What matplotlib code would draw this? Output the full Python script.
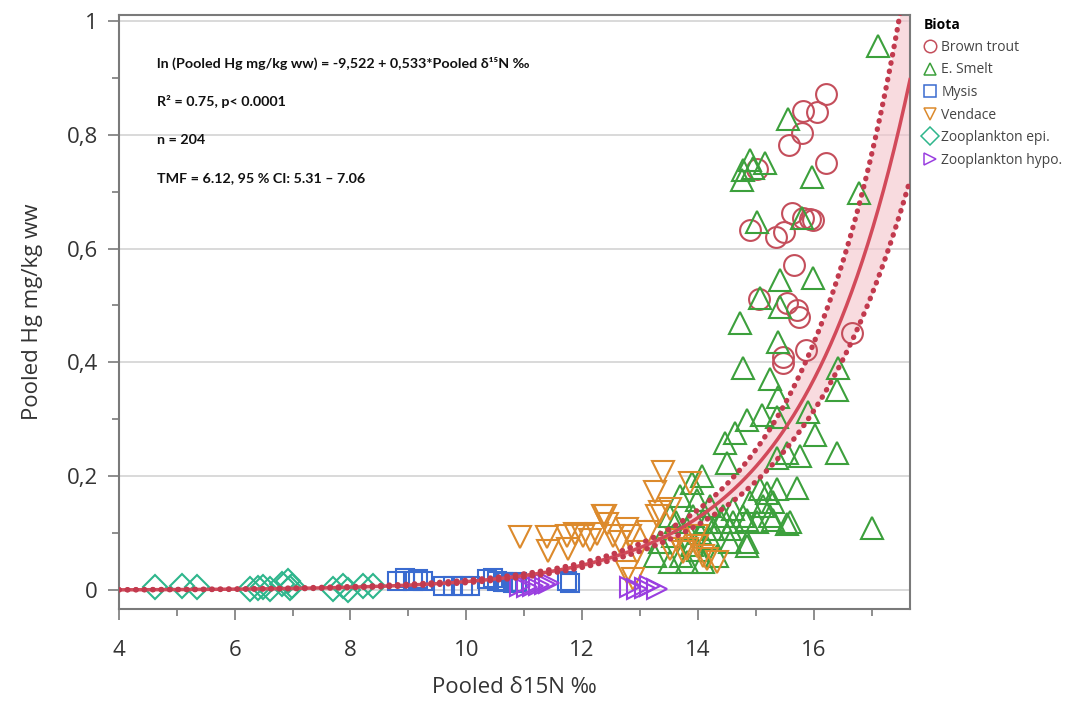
import matplotlib
matplotlib.use('Agg')
import matplotlib.pyplot as plt
from matplotlib.lines import Line2D
import numpy as np

plt.rcParams.update({'font.family': 'Open Sans', 'font.size': 16})

# --- data ---
trout_x = [16.21, 15.81, 16.06, 15.80, 15.57, 16.21, 15.02, 15.62, 15.81, 15.93, 15.99, 14.90,
           15.35, 15.49, 15.66, 15.05, 15.54, 15.71, 15.74, 15.87, 15.47, 15.47, 16.66]
trout_y = [0.872, 0.841, 0.839, 0.802, 0.781, 0.750, 0.740, 0.662, 0.653, 0.651, 0.650, 0.632,
           0.620, 0.629, 0.571, 0.511, 0.504, 0.492, 0.480, 0.422, 0.410, 0.399, 0.452]

smelt_x = [17.11, 15.55, 14.78, 14.90, 15.16, 14.76, 14.95, 15.97, 16.78, 15.02, 15.80,
           15.42, 15.99, 15.07, 15.42, 14.73, 15.38, 14.78, 15.24, 15.38, 16.42, 16.40, 15.11,
           15.36, 15.90, 16.02, 14.64, 14.47, 14.50, 15.36, 15.54, 15.76, 16.40, 14.07, 15.71,
           15.36, 15.07, 14.90, 15.12, 15.30, 14.60, 14.78, 14.43, 15.02, 15.24, 15.54, 14.55,
           14.84, 17.00, 13.90, 13.69, 13.98, 14.21, 13.26, 13.52, 13.81, 14.09, 14.33, 14.55,
           14.84, 14.60, 14.84, 15.30, 15.59, 13.81, 13.57, 14.03, 14.16, 13.52, 13.91, 15.19,
           14.26, 13.34, 14.84, 13.70, 14.00, 14.20, 13.90, 14.40, 13.62]
smelt_y = [0.956, 0.828, 0.737, 0.755, 0.751, 0.720, 0.742, 0.725, 0.697, 0.646, 0.653,
           0.545, 0.548, 0.513, 0.497, 0.469, 0.436, 0.390, 0.370, 0.340, 0.390, 0.352, 0.308,
           0.305, 0.313, 0.273, 0.276, 0.259, 0.224, 0.233, 0.241, 0.235, 0.241, 0.200, 0.180,
           0.177, 0.177, 0.154, 0.147, 0.154, 0.142, 0.130, 0.130, 0.119, 0.130, 0.116, 0.107,
           0.084, 0.110, 0.189, 0.165, 0.159, 0.147, 0.060, 0.049, 0.049, 0.049, 0.060, 0.084,
           0.077, 0.119, 0.124, 0.124, 0.119, 0.107, 0.095, 0.101, 0.119, 0.130, 0.130, 0.171,
           0.107, 0.084, 0.299, 0.060, 0.070, 0.090, 0.080, 0.120, 0.120]

mysis_x = [8.80, 8.94, 9.08, 9.16, 9.25, 9.60, 9.77, 9.94, 10.06, 10.36, 10.46, 10.53,
           10.63, 10.70, 10.80, 10.87, 11.74, 11.79]
mysis_y = [0.016, 0.022, 0.016, 0.019, 0.016, 0.007, 0.007, 0.007, 0.007, 0.019, 0.022, 0.016,
           0.014, 0.014, 0.013, 0.014, 0.016, 0.013]

vend_x = [10.93, 11.39, 11.41, 11.76, 11.88, 12.02, 12.13, 12.26, 12.39, 12.43, 12.53, 12.65,
          12.77, 12.83, 12.95, 12.77, 12.88, 13.14, 13.40, 13.26, 13.34, 13.52, 13.86, 13.74,
          13.98, 14.16, 13.64, 11.74, 13.29, 13.52, 13.81, 14.09, 14.33, 13.98, 12.36]
vend_y = [0.093, 0.093, 0.069, 0.072, 0.098, 0.095, 0.089, 0.098, 0.130, 0.116, 0.095, 0.084,
          0.107, 0.095, 0.067, 0.032, 0.019, 0.102, 0.208, 0.173, 0.137, 0.142, 0.189, 0.067,
          0.077, 0.054, 0.089, 0.095, 0.130, 0.072, 0.072, 0.060, 0.049, 0.095, 0.130]

epi_x = [4.62, 5.09, 5.35, 6.26, 6.40, 6.49, 6.61, 6.81, 6.92, 6.99, 6.95, 7.70, 7.87, 7.95,
         8.21, 8.39]
epi_y = [0.005, 0.007, 0.005, 0.002, 0.004, 0.005, 0.002, 0.010, 0.016, 0.007, 0.004, 0.002,
         0.007, 0.001, 0.007, 0.007]

hypo_x = [10.93, 11.05, 11.15, 11.25, 11.35, 11.42, 12.83, 12.95, 13.09, 13.17, 13.29]
hypo_y = [0.007, 0.005, 0.007, 0.009, 0.011, 0.012, 0.005, 0.002, 0.004, 0.007, 0.002]

# regression ln(Hg) = a + b*d15N, CI of the mean
A, B = -9.522, 0.533
XBAR, SE_SLOPE, SE_MEAN, T = 12.7, 0.0205, 0.045, 1.97

groups = [
    ('Brown trout', trout_x, trout_y, 'o', '#c44e5b'),
    ('E. Smelt', smelt_x, smelt_y, '^', '#3ca03c'),
    ('Mysis', mysis_x, mysis_y, 's', '#3a6bd0'),
    ('Vendace', vend_x, vend_y, 'v', '#dc8a2c'),
    ('Zooplankton epi.', epi_x, epi_y, 'D', '#2eb68c'),
    ('Zooplankton hypo.', hypo_x, hypo_y, '>', '#9a3fe0'),
]
sizes = {'o': 15, '^': 16, 's': 13, 'v': 16, 'D': 12, '>': 15}

fig = plt.figure(figsize=(10.8, 7.02), dpi=100)
ax = fig.add_axes([0.110, 0.1325, 0.7326, 0.8461])

xx = np.linspace(4, 17.66, 300)
mean = A + B * xx
half = T * np.sqrt(SE_MEAN**2 + (xx - XBAR)**2 * SE_SLOPE**2)
ax.fill_between(xx, np.exp(mean - half), np.exp(mean + half), color='#f4c4cb', alpha=0.6, lw=0, zorder=2)

for name, xs, ys, m, c in groups:
    ax.plot(xs, ys, ls='none', marker=m, ms=sizes[m], mfc='none', mec=c, mew=1.5, zorder=3)

ax.plot(xx, np.exp(mean), color='#d24a5a', lw=2.5, zorder=5)
for sgn in (-1, 1):
    ax.plot(xx, np.exp(mean + sgn * half), color='#c23a4e', lw=3.8, ls=(0, (0.1, 1.5)),
            dash_capstyle='round', zorder=5)

ax.set_xlim(4, 17.66)
ax.set_ylim(-0.033, 1.01)
ax.set_xticks([4, 6, 8, 10, 12, 14, 16])
ax.set_xticks(np.arange(5, 18, 2), minor=True)
ax.set_yticks([0, 0.2, 0.4, 0.6, 0.8, 1.0])
ax.set_yticklabels(['0', '0,2', '0,4', '0,6', '0,8', '1'])
ax.set_yticks(np.arange(0.1, 1.0, 0.2), minor=True)
ax.tick_params(which='major', length=8, width=1.2, color='#7a7a7a', labelcolor='#333333', labelsize=16)
ax.tick_params(which='minor', length=5, width=1.2, color='#7a7a7a')
ax.tick_params(axis='x', which='major', pad=14)
ax.tick_params(axis='y', which='major', pad=7)
ax.grid(axis='y', which='major', color='#d0d0d0', lw=1.1, zorder=0)
ax.set_axisbelow(True)
for s in ax.spines.values():
    s.set_color('#7a7a7a'); s.set_linewidth(1.5)

ax.set_xlabel('Pooled δ15N ‰', fontsize=16, color='#333333', labelpad=12)
ax.set_ylabel('Pooled Hg mg/kg ww', fontsize=16, color='#333333', labelpad=17)

notes = ['ln (Pooled Hg mg/kg ww) = -9,522 + 0,533*Pooled δ¹⁵N ‰',
         'R² = 0.75, p< 0.0001',
         'n = 204',
         'TMF = 6.12, 95 % CI: 5.31 – 7.06']
for i, t in enumerate(notes):
    fig.text(0.1454, 0.910 - i * 0.0545, t, fontsize=10.3, fontweight='bold', family='Lato',
             va='center', ha='left', color='#111111')

handles = [Line2D([], [], ls='none', marker=m, ms=9, mfc='none', mec=c, mew=1.1)
           for name, xs, ys, m, c in groups]
leg = fig.legend(handles, [g[0] for g in groups], loc='upper left', bbox_to_anchor=(0.846, 0.988),
                 frameon=False, fontsize=10, title='Biota', handletextpad=0.3, handlelength=1.0,
                 labelspacing=0.55, borderpad=0.2, alignment='left')
leg.get_title().set_fontweight('bold')
leg.get_title().set_fontsize(10)
for t in leg.get_texts():
    t.set_color('#444444')

fig.savefig('out.png', dpi=100)
